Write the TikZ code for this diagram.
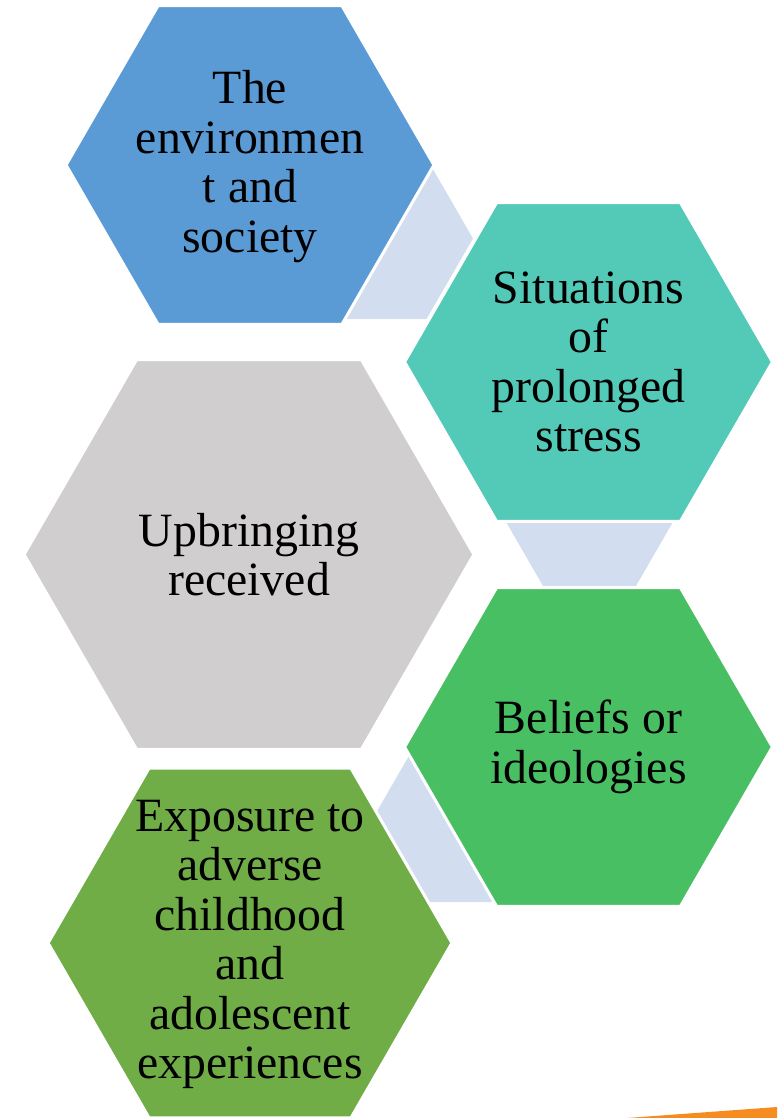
\documentclass[tikz,border=0pt]{standalone}
\usepackage{fontspec}
\setmainfont{Liberation Serif}
\usetikzlibrary{shapes.geometric}

\definecolor{hexblue}{HTML}{5B9BD5}
\definecolor{hexteal}{HTML}{53C9B7}
\definecolor{hexgrey}{HTML}{D0CECE}
\definecolor{hexgreen}{HTML}{49BF64}
\definecolor{hexolive}{HTML}{70AD47}
\definecolor{linkblue}{HTML}{D2DEEF}
\definecolor{edgeorange}{HTML}{F68B1F}

\begin{document}
\begin{tikzpicture}[x=0.02cm, y=-0.02cm,
    hexa/.style={regular polygon, regular polygon sides=6, minimum size=#1*0.04cm,
      inner sep=0pt, draw=white, line width=0.06cm},
    link/.style={regular polygon, regular polygon sides=6, minimum size=#1*0.04cm,
      inner sep=0pt, fill=linkblue},
    lbl/.style={align=center, text=black, font=\fontsize{27.2}{28.2}\selectfont}]

      % Page frame
      \useasboundingbox (0,0) rectangle (777,1118);
      \clip (0,0) rectangle (777,1118);

      % Small hexagons behind the big ones
      \node[link=93] (l1) at (380,238.5) {};
      \node[link=93] (l2) at (589.5,505.5) {};
      \node[link=93] (l3) at (464,821.5) {};

      % Big hexagons
      \node[hexa=184, fill=hexblue] (env) at (250,165) {};
      \node[hexa=184, fill=hexteal] (stress) at (588.5,362) {};
      \node[hexa=225, fill=hexgrey] (upbr) at (249,554.5) {};
      \node[hexa=184, fill=hexgreen] (belief) at (588.5,747) {};
      \node[hexa=202, fill=hexolive] (expo) at (250,943) {};

      % Labels
      \node[lbl] (env-t) at ([yshift=-0.03cm]env) {The\\environmen\\t and\\society};
      \node[lbl] (stress-t) at (stress) {Situations\\of\\prolonged\\stress};
      \node[lbl] (upbr-t) at (upbr) {Upbringing\\received};
      \node[lbl] (belief-t) at (belief) {Beliefs or\\ideologies};
      \node[lbl] (expo-t) at ([yshift=-0.03cm]expo) {Exposure to\\adverse\\childhood\\and\\adolescent\\experiences};

      % Orange edge in the corner
      \fill[edgeorange] (627,1118) -- (777,1107) -- (777,1118) -- cycle;
    \end{tikzpicture}
\end{document}
